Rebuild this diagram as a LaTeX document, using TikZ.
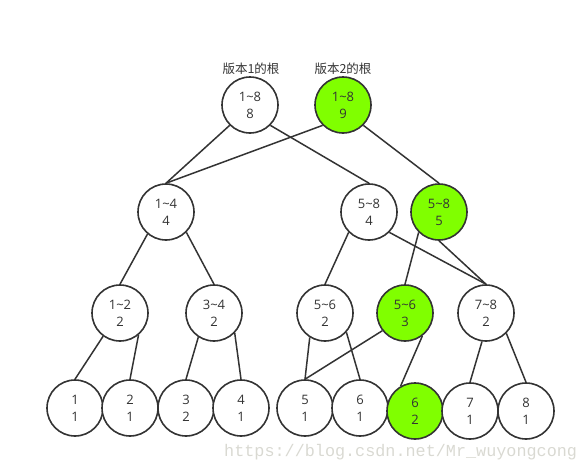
\documentclass[tikz,border=0pt]{standalone}
\usepackage{fontspec}
\setmainfont{Open Sans}
\newfontfamily\cjk{Noto Sans CJK SC}
\newfontfamily\wmfont{Liberation Mono}
\definecolor{ink}{HTML}{333333}
\definecolor{hl}{HTML}{80FF00}
\definecolor{wm}{HTML}{D9D9D2}
\tikzset{
  tn/.style={circle, draw=ink, line width=1.6pt, fill=white, minimum size=56pt, inner sep=0pt,
    align=center, text=ink, font=\fontsize{13}{17}\selectfont},
  gn/.style={tn, fill=hl},
  edge/.style={draw=ink, line width=1.5pt},
  lab/.style={text=ink, font=\cjk\fontsize{12.5}{14}\selectfont, inner sep=0pt}
}
\begin{document}
\begin{tikzpicture}[x=1pt,y=-1pt]
\useasboundingbox (0,0) rectangle (585,471);
% labels
\node[lab] (t1) at (251,69) {版本1的根};
\node[lab] (t2) at (343,69) {版本2的根};
% nodes
\node[tn] (r1) at (250,105) {1\textasciitilde8\\8};
\node[gn] (r2) at (343,105) {1\textasciitilde8\\9};
\node[tn] (a) at (166,212) {1\textasciitilde4\\4};
\node[tn] (b) at (369,212) {5\textasciitilde8\\4};
\node[gn] (bg) at (439,212) {5\textasciitilde8\\5};
\node[tn] (c) at (120,313) {1\textasciitilde2\\2};
\node[tn] (d) at (214,313) {3\textasciitilde4\\2};
\node[tn] (e) at (325,313) {5\textasciitilde6\\2};
\node[gn] (eg) at (405,313) {5\textasciitilde6\\3};
\node[tn] (f) at (486,313) {7\textasciitilde8\\2};
\node[tn] (l1) at (75,408) {1\\1};
\node[tn] (l2) at (130,408) {2\\1};
\node[tn] (l3) at (186,408) {3\\2};
\node[tn] (l4) at (241,408) {4\\1};
\node[tn] (l5) at (305,408) {5\\1};
\node[tn] (l6) at (360,408) {6\\1};
\node[gn] (l6g) at (415,411) {6\\2};
\node[tn] (l7) at (470,411) {7\\1};
\node[tn] (l8) at (526,411) {8\\1};
% edges
\draw[edge] (r1.south west) -- (a.north);
\draw[edge] (r1.south east) -- (b.north);
\draw[edge] (r2.south west) -- (a.north);
\draw[edge] (r2.south east) -- (bg.north);
\draw[edge] (a.230) -- (c.north);
\draw[edge] (a.-45) -- (d.north);
\draw[edge] (c.234) -- (l1.north);
\draw[edge] (c.-50) -- (l2.north);
\draw[edge] (d.237) -- (l3.north);
\draw[edge] (d.-44) -- (l4.north);
\draw[edge] (b.south west) -- (e.north);
\draw[edge] (b.south east) -- (f.north);
\draw[edge] (bg.south west) -- (eg.north);
\draw[edge] (bg.south) -- (f.north);
\draw[edge] (e.238) -- (l5.north);
\draw[edge] (e.-42) -- (l6.north);
\draw[edge] (eg.218) -- (l5.north);
\draw[edge] (eg.-53) -- (l6g.120);
\draw[edge] (f.262) -- (l7.north);
\draw[edge] (f.-45) -- (l8.north);
% watermark
\node[text=wm, font=\wmfont\fontsize{16.8}{18}\selectfont, inner sep=0pt, anchor=west] (wmk) at (224,452) {https://blog.csdn.net/Mr\_wuyongcong};
\end{tikzpicture}
\end{document}
